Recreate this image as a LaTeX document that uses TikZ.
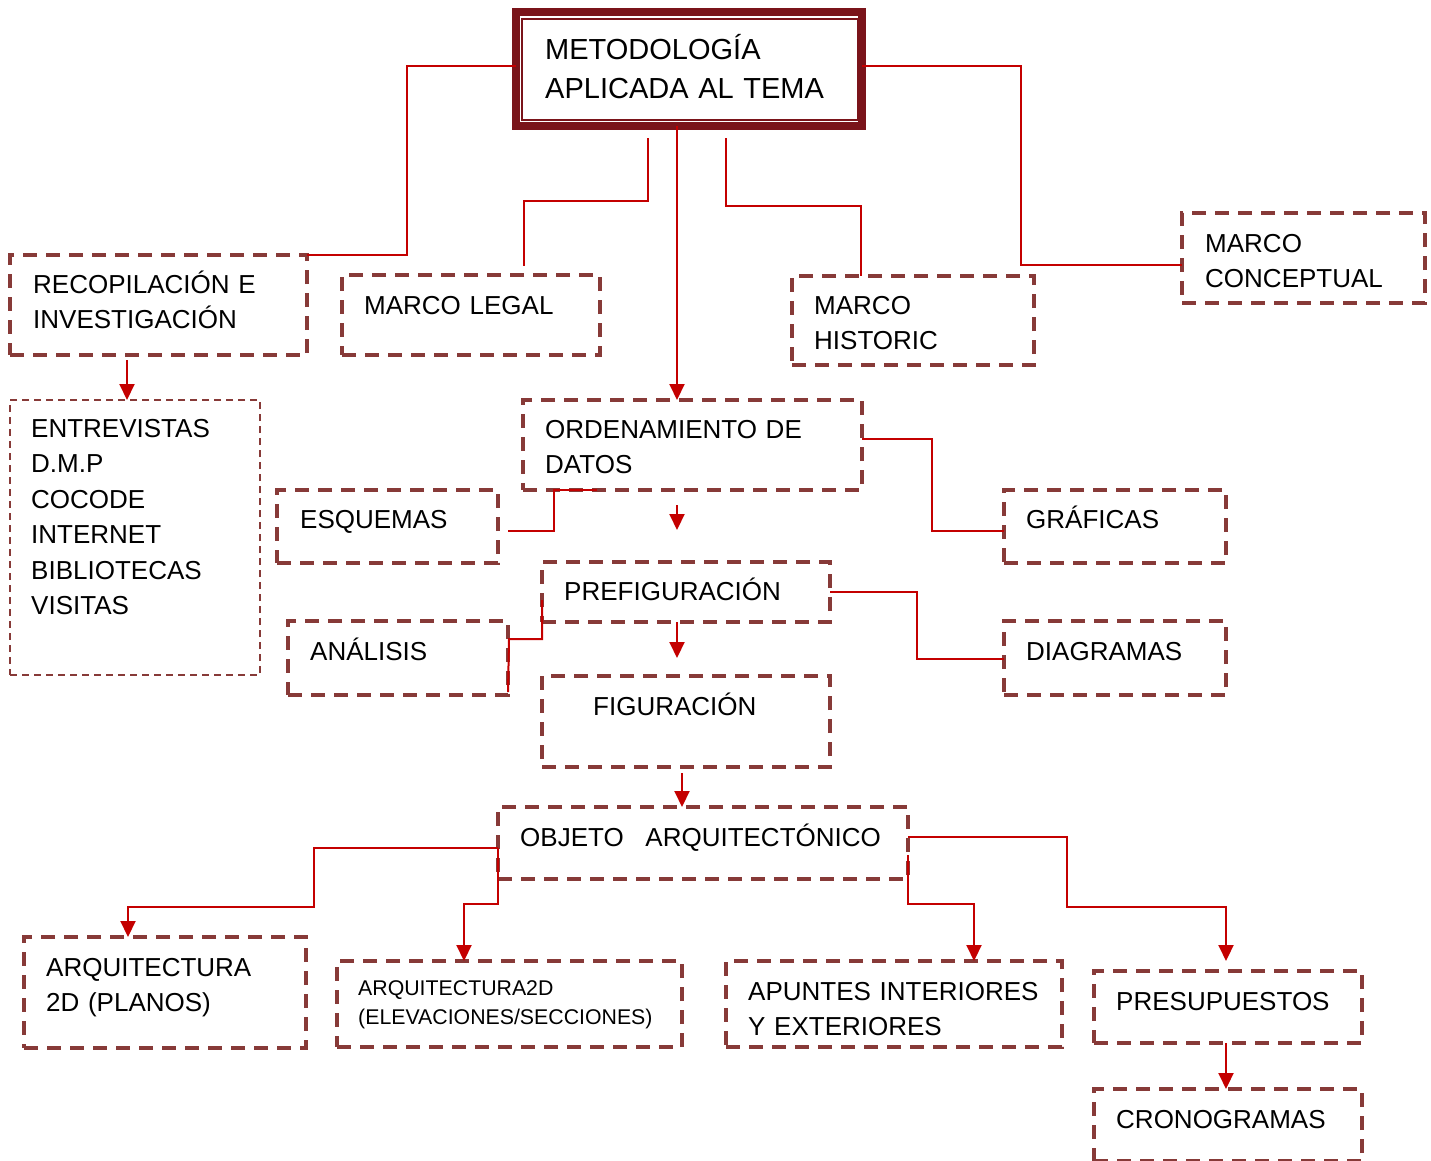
\documentclass[tikz,border=0pt]{standalone}
\usepackage{fontspec}
\setmainfont{Liberation Sans}
\usetikzlibrary{arrows.meta,calc}
\definecolor{frame}{RGB}{122,20,26}
\definecolor{boxred}{RGB}{135,58,56}
\definecolor{linered}{RGB}{196,0,0}
\begin{document}
\begin{tikzpicture}[x=1pt,y=-1pt,
  box/.style={draw=boxred,line width=4pt,dash pattern=on 14pt off 9pt,inner sep=0pt,outer sep=0pt,anchor=north west},
  thinbox/.style={draw=boxred,line width=1.5pt,dash pattern=on 7pt off 5pt,inner sep=0pt,outer sep=0pt,anchor=north west},
  txt/.style={inner sep=0pt,anchor=base west,align=left,text width=420pt,font=\fontsize{26}{35.5}\selectfont},
  smalltxt/.style={txt,font=\fontsize{21.3}{29}\selectfont},
  titletxt/.style={txt,font=\fontsize{29}{39}\selectfont},
  conn/.style={draw=linered,line width=2pt},
  arr/.style={conn,-{Triangle[width=15pt,length=16pt]}}]
\useasboundingbox (0,0) rectangle (1431,1160);
% main box
\node[draw=frame,line width=8pt,inner sep=0pt,outer sep=0pt,minimum width=346pt,minimum height=114pt] (main) at (689,69) {};
\draw[draw=frame,line width=2.5pt] ($(main.north west)+(6,7)$) rectangle ($(main.south east)+(-4,-6)$);
\node[titletxt] (tmain) at (545,59) {METODOLOGÍA\\APLICADA AL TEMA};
% boxes
\node[box,minimum width=297pt,minimum height=100pt] (recop) at (10,255) {};
\node[txt] (trecop) at (33,293) {RECOPILACIÓN E\\INVESTIGACIÓN};
\node[box,minimum width=258pt,minimum height=80pt] (legal) at (342,275) {};
\node[txt] (tlegal) at (364,314) {MARCO LEGAL};
\node[box,minimum width=242pt,minimum height=89pt] (hist) at (792,276) {};
\node[txt] (thist) at (814,314) {MARCO\\HISTORIC};
\node[box,minimum width=243pt,minimum height=90pt] (concept) at (1182,213) {};
\node[txt] (tconcept) at (1205,252) {MARCO\\CONCEPTUAL};
\node[thinbox,minimum width=250pt,minimum height=275pt] (entrev) at (10,400) {};
\node[txt] (tentrev) at (31,437) {ENTREVISTAS\\D.M.P\\COCODE\\INTERNET\\BIBLIOTECAS\\VISITAS};
\node[box,minimum width=339pt,minimum height=90pt] (orden) at (523,400) {};
\node[txt] (torden) at (545,438) {ORDENAMIENTO DE\\DATOS};
\node[box,minimum width=221pt,minimum height=73pt] (esq) at (277,490) {};
\node[txt] (tesq) at (300,528) {ESQUEMAS};
\node[box,minimum width=222pt,minimum height=73pt] (graf) at (1004,490) {};
\node[txt] (tgraf) at (1026,528) {GRÁFICAS};
\node[box,minimum width=288pt,minimum height=60pt] (prefig) at (542,562) {};
\node[txt] (tprefig) at (564,600) {PREFIGURACIÓN};
\node[box,minimum width=220pt,minimum height=74pt] (anal) at (288,621) {};
\node[txt] (tanal) at (310,660) {ANÁLISIS};
\node[box,minimum width=222pt,minimum height=74pt] (diag) at (1004,621) {};
\node[txt] (tdiag) at (1026,660) {DIAGRAMAS};
\node[box,minimum width=288pt,minimum height=91pt] (fig) at (542,676) {};
\node[txt] (tfig) at (593,715) {FIGURACIÓN};
\node[box,minimum width=410pt,minimum height=72pt] (obj) at (498,807) {};
\node[txt] (tobj) at (520,846) {OBJETO\ \ \,ARQUITECTÓNICO};
\node[box,minimum width=282pt,minimum height=111pt] (arq) at (24,937) {};
\node[txt] (tarq) at (46,976) {ARQUITECTURA\\2D (PLANOS)};
\node[box,minimum width=345pt,minimum height=86pt] (elev) at (337,961) {};
\node[smalltxt] (telev) at (358,995) {ARQUITECTURA2D\\(ELEVACIONES/SECCIONES)};
\node[box,minimum width=336pt,minimum height=86pt] (apun) at (726,961) {};
\node[txt] (tapun) at (748,1000) {APUNTES INTERIORES\\Y EXTERIORES};
\node[box,minimum width=268pt,minimum height=72pt] (presup) at (1094,971) {};
\node[txt] (tpresup) at (1116,1010) {PRESUPUESTOS};
\node[box,minimum width=268pt,minimum height=72pt] (crono) at (1094,1089) {};
\node[txt] (tcrono) at (1116,1128) {CRONOGRAMAS};
% connectors
\draw[conn] (main.west |- 0,66) -| (407,255) -- (recop.north east);
\draw[conn] ($(main.south -| 648,0)+(0,12)$) |- (524,201) -- ($(legal.north -| 524,0)+(0,-9)$);
\draw[arr] (main.south -| 677,0) -- (orden.north -| 677,0);
\draw[conn] ($(main.south -| 726,0)+(0,12)$) |- (861,206) -- (hist.north -| 861,0);
\draw[conn] (main.east |- 0,66) -| (1021,265) -- (concept.west |- 0,265);
\draw[arr] ($(recop.south -| 127,0)+(0,5)$) -- (entrev.north -| 127,0);
\draw[conn] (orden.south -| 597,0) -| (554,531) -- ($(esq.east |- 0,531)+(10,0)$);
\draw[conn] (orden.east |- 0,439) -| (932,531) -- (graf.west |- 0,531);
\draw[arr] ($(orden.south -| 677,0)+(0,15)$) -- ($(prefig.north -| 677,0)+(0,-32)$);
\draw[conn] (prefig.west |- 0,600) |- (509,639) -- (anal.east |- 0,692);
\draw[conn] (prefig.east |- 0,592) -| (917,659) -- (diag.west |- 0,659);
\draw[arr] (prefig.south -| 677,0) -- ($(fig.north -| 677,0)+(0,-18)$);
\draw[arr] ($(fig.south -| 682,0)+(0,6)$) -- (obj.north -| 682,0);
\draw[arr] (obj.west |- 0,848) -| (314,907) -| (arq.north -| 128,0);
\draw[arr] (obj.west |- 0,848) |- (464,904) -- (elev.north -| 464,0);
\draw[arr] (obj.east |- 0,837) -| (1067,907) -| ($(presup.north -| 1226,0)+(0,-10)$);
\draw[arr] (obj.east |- 0,855) |- (974,904) -- (apun.north -| 974,0);
\draw[arr] (presup.south -| 1226,0) -- (crono.north -| 1226,0);
\end{tikzpicture}
\end{document}
